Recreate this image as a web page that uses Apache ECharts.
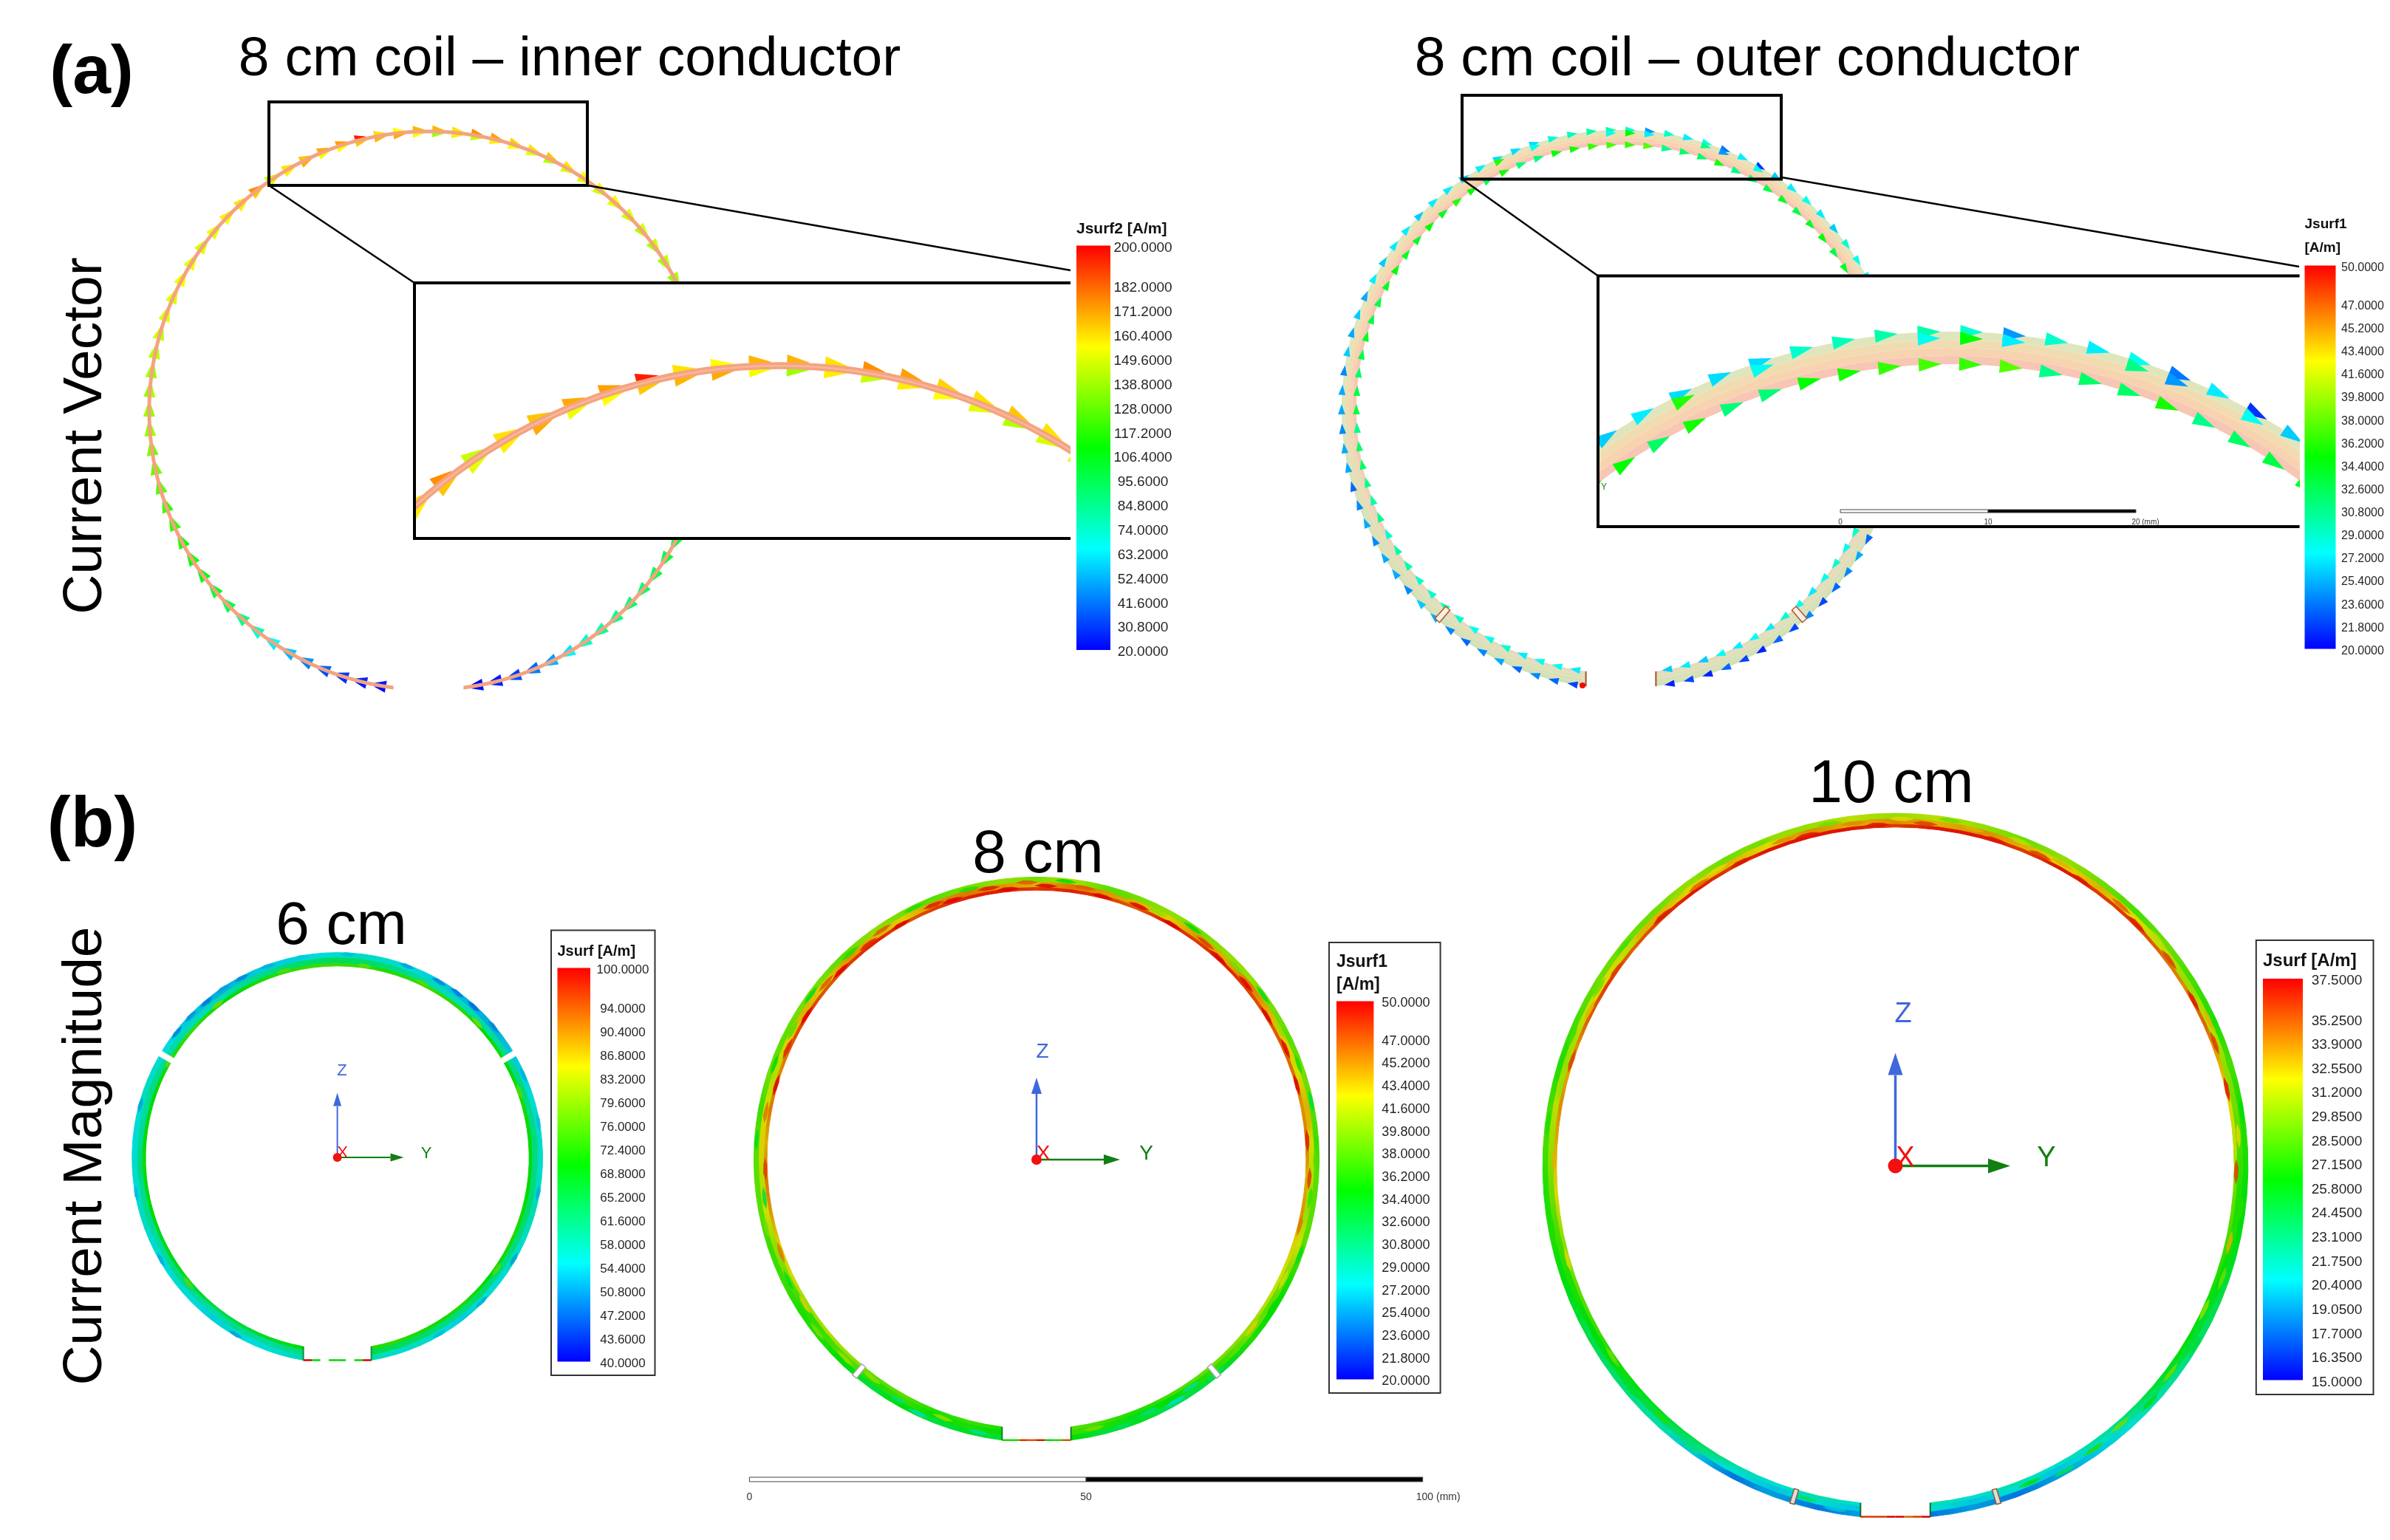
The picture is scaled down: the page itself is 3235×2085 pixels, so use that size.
<!DOCTYPE html>
<html><head><meta charset="utf-8">
<style>html,body{margin:0;padding:0;background:#fff}#c{width:3235px;height:2085px}</style>
<script src="https://cdn.jsdelivr.net/npm/echarts@6/dist/echarts.min.js"></script>
</head><body><div id="c"></div>
<script>
// ---------- colour bar tick labels ----------
const ticksInner=[20,30.8,41.6,52.4,63.2,74,84.8,95.6,106.4,117.2,128,138.8,149.6,160.4,171.2,182,200];
const ticksOuter=[20,21.8,23.6,25.4,27.2,29,30.8,32.6,34.4,36.2,38,39.8,41.6,43.4,45.2,47,50];
const ticks6=[40,43.6,47.2,50.8,54.4,58,61.6,65.2,68.8,72.4,76,79.6,83.2,86.8,90.4,94,100];
const ticks8=[20,21.8,23.6,25.4,27.2,29,30.8,32.6,34.4,36.2,38,39.8,41.6,43.4,45.2,47,50];
const ticks10=[15,16.35,17.7,19.05,20.4,21.75,23.1,24.45,25.8,27.15,28.5,29.85,31.2,32.55,33.9,35.25,37.5];
// ---------- arrow positions (degrees clockwise from top of the coil) ----------
const arrowAngles=[-170,-166,-162,-158,-154,-150,-146,-142,-138,-134,-130,-126,-122,-118,-114,-110,-106,-102,-98,-94,-90,-86,-82,-78,-74,-70,-66,-62,-58,-54,-50,-46,-42,-38,-34,-30,-26,-22,-18,-14,-10,-6,-2,2,6,10,14,18,22,26,30,34,38,42,46,50,54,58,62,66,70,74,78,82,86,90,94,98,102,106,110,114,118,122,126,130,134,138,142,146,150,154,158,162,166,170];
// inner conductor arrows, A/m
const innerCondOuter=[22,24,28,34,42,52,62,72,84,96,102,108,112,115,118,120,124,128,132,136,138,136,140,142,146,148,150,152,150,148,152,158,160,175,145,160,165,170,172,195,160,155,168,168,160,175,172,163,160,165,160,155,152,156,150,148,146,144,140,138,130,125,120,118,112,108,106,104,110,108,106,104,100,102,98,94,92,88,84,76,64,52,42,34,26,22];
const innerCondInner=[24,26,30,38,46,56,66,76,88,98,104,106,114,112,120,118,126,130,130,138,136,140,138,144,144,150,148,154,152,150,150,154,158,165,150,158,170,152,155,165,168,170,153,138,158,145,158,155,150,142,148,150,146,150,146,142,140,138,136,132,126,122,118,114,110,104,102,100,106,104,102,100,98,96,94,90,88,84,80,72,60,48,38,30,24,20];
// outer conductor arrows, A/m
const outerCondOuter=[22,23,24,23,25,24,23,24,25,26,24,25,25,24,25,24,23,25,25,24,25,25,24,26,25,26,25,27,26,27,27,26,27,27,26,27,26.5,26.5,26.5,29,29.5,30,30,29,24.5,29,27,28,23.5,27,21.5,26,27,28,27,26,29,28,27,28,29,28,27,26,25,26,27,26,25,24,23,24,23,25,24,23,22,24,22,23,21,22,23,21,22,21];
const outerCondInner=[27,28,28,27,29,28,28,29,30,29,29,30,30,29,31,30,31,32,32,31,33,33,32,33,34,33,33,34,35,34,34,35,34,36,35,32,35.5,31.5,31.5,35,35.5,36.5,37,36.5,37.5,31,32,32,35.5,31,32,33,34,33,34,35,33,34,33,34,32,33,32,34,33,32,31,32,31,30,29,30,29,28,29,28,27,28,29,27,28,27,28,26,27,26];
const outerExtraAngles=[-26,-18,-2,2,6,18,22,30];
const outerExtraValues=[36,28,28,35,27,31,24.5,28];
// ---------- surface current magnitude, outer / middle / inner part of the strip, clockwise from gap ----------
const outer6=[58,56,55,56,54,55,56,55,56,57,55,56,55,56,57,56,55,54,53,52,53,54,54,55,56,57,56,55,54,53,52,52,53,54,55,56,57,56,57,58,56,57,55,56,54,55,57,56,58];
const mid6=[62,60,59,60,58,60,61,60,59,61,60,62,60,59,61,60,59,58,57,58,60,61,62,63,64,63,62,60,58,57,58,59,60,61,62,61,62,61,62,63,62,61,62,63,61,62,63,64,65];
const inner6=[70,68,67,66,65,67,68,69,68,70,69,71,70,69,70,71,72,74,72,70,71,72,73,74,74,73,72,73,74,73,72,70,71,70,72,71,70,69,70,71,72,71,70,71,72,71,72,73,72];
const outer8=[33,34,33,35,33,35,36,36,37,37,38,38,38,37,39,38,39,39,38,40,39,38,39,40,39,41,38,39,40,39,40,40,39,38,39,38,37,38,38,38,36,35,36,34,33,32,34,33,35];
const mid8=[35,36,35,37,36,38,37,36,39,40,42,41,43,42,41,43,44,43,45,44,43,45,46,45,44,46,45,44,43,45,44,46,44,43,42,44,42,41,40,42,39,38,39,37,36,35,34,36,37];
const inner8=[36,37,36,38,38,40,41,40,42,43,45,46,44,46,45,47,48,47,48,49,47,48,49,49,48,49,48,47,49,48,49,48,47,47,46,45,46,44,45,43,42,41,40,39,38,37,36,37,38];
const outer10=[19,18,19,18,20,22,23,24,25,26,27,27,28,28,27,28,29,29,29,30,29,30,30,31,30,31,30,29,30,29,28,29,28,27,28,27,27,26,26,25,24,23,22,21,20,19,18,19,18];
const mid10=[20,21,20,21,23,24,25,26,26,27,28,29,30,31,30,31,32,31,33,32,33,32,34,33,34,33,34,33,32,33,32,31,30,31,30,29,28,27,27,26,25,25,24,22,21,20,21,20,21];
const inner10=[21,22,21,22,24,25,26,27,28,29,30,32,33,34,33,35,36,35,36,37,36,37,37,37,36,37,37,36,37,36,36,35,34,35,33,32,31,29,28,27,26,26,25,23,22,21,22,21,22];
// local hot and cold streaks: angle (deg), depth across the strip (0 outer, 1 inner), value
const spotAngles6=[-150,-120,-100,-75,-52,-46,-40,-34,-28,-20,-10,3,20,30,36,42,50,66,80,100,120,135,150,-130,-60,-38,-16,8,26,46,70,125];
const spotDepth6=[.1,.12,.08,.1,.12,.1,.14,.08,.12,.1,.1,.12,.1,.14,.1,.12,.1,.12,.08,.1,.12,.1,.12,.8,.85,.8,.8,.85,.8,.8,.85,.8];
const spotValues6=[51,52,53,51,49,50,48,51,49,52,54,53,51,49,48,47,49,52,53,52,51,52,53,76,77,78,76,77,76,78,76,76];
const spotAngles8=[-168,-160,-155,-150,-143,-136,-128,-122,-116,-110,-104,-98,-92,-86,-80,-74,-70,-66,-62,-58,-54,-50,-46,-42,-38,-34,-30,-26,-22,-18,-14,-10,-6,-2,2,6,10,14,18,22,26,30,34,38,42,46,50,54,58,62,66,70,74,78,82,86,90,94,98,104,110,116,122,128,134,140,146,150,156,162,168];
const spotDepth8=[.3,.6,.2,.4,.7,.5,.3,.7,.5,.8,.3,.6,.85,.15,.6,.9,.3,.75,.5,.85,.25,.6,.8,.35,.7,.45,.85,.2,.6,.75,.3,.55,.8,.4,.65,.2,.5,.85,.35,.7,.55,.85,.25,.6,.8,.4,.7,.2,.85,.5,.75,.3,.9,.15,.6,.85,.3,.7,.5,.85,.2,.6,.35,.7,.5,.25,.6,.3,.5,.2,.6];
const spotValues8=[30,40,29,31,40,40,39,43,34,46,39,33,48,34,46,50,35,49,38,50,34,47,50,36,49,47,50,36,49,50,36,49,50,47,50,35,47,50,38,50,40,50,35,48,50,39,50,34,50,40,50,36,50,33,44,49,38,48,37,46,34,42,35,43,38,31,30,28,31,32,39];
const spotAngles10=[-170,-165,-158,-150,-144,-137,-130,-124,-118,-112,-106,-100,-95,-89,-83,-77,-72,-68,-63,-59,-55,-51,-47,-43,-39,-35,-31,-27,-23,-19,-15,-11,-7,-3,1,5,9,13,17,21,25,29,33,37,41,45,49,53,57,61,65,69,73,77,81,85,91,97,103,109,115,121,127,133,139,145,151,157];
const spotDepth10=[.3,.6,.2,.5,.3,.7,.4,.8,.25,.6,.85,.3,.55,.8,.2,.65,.9,.35,.7,.5,.85,.25,.6,.8,.35,.7,.5,.85,.2,.6,.75,.3,.55,.8,.4,.65,.2,.5,.85,.35,.7,.55,.85,.25,.6,.8,.4,.7,.2,.85,.5,.75,.3,.9,.15,.6,.85,.3,.7,.5,.85,.2,.6,.35,.7,.5,.25,.6];
const spotValues10=[20,24,19,21,23,27,25,29,24,27,32,27,29,33,27,30,36,28,33,29,36,28,33,37,30,35,32,37,29,34,37,29,34,37,32,36,29,33,37,31,36,33,37,29,35,37,31,36,28,37,33,36,28,37,26,32,36,27,33,29,30,25,29,26,29,27,24,26];
// thin strip across the coil gap, values left to right (null = no strip drawn)
const gapStrip6=[100,70,null,70,70,null,70,100];
const gapStrip8=[36,36,48,47,49,35,36,47];
const gapStrip10=[36,36,36,49,49,35,36,47];
// slits in the strip, degrees
const slits6=[-59.5,59.5], slits8=[-140,140], slits10=[-163,163], slitsOuter=[-139,139];
const scaleB=[0,50,100], scaleInset=[0,10,20];

// ---------- helpers ----------
const FONT='Liberation Sans';
const k=9.11;
const RAIN=[[0,[0,0,255]],[.25,[0,255,255]],[.5,[0,255,0]],[.75,[255,255,0]],[1,[255,0,0]]];
function rainbow(v,lo,hi,shade=1){
  let t=Math.max(0,Math.min(1,(v-lo)/(hi-lo)));
  for(let i=1;i<RAIN.length;i++){ if(t<=RAIN[i][0]){
    const a=RAIN[i-1],b=RAIN[i],f=(t-a[0])/(b[0]-a[0]);
    const c=a[1].map((x,j)=>Math.round((x+(b[1][j]-x)*f)*shade));
    return `rgb(${c[0]},${c[1]},${c[2]})`; } }
  return 'rgb(255,0,0)';
}
const polar=(api,r,deg)=>{const a=deg*Math.PI/180;return api.coord([r*Math.sin(a),r*Math.cos(a)]);};
const endAngle=(r,cut)=>180-Math.asin(cut/r)*180/Math.PI;

const grid=[],xAxis=[],yAxis=[],series=[];
function addMapGrid(left,top,width,height,x0,x1,y0,y1){
  grid.push({left,top,width,height,show:false,containLabel:false});
  xAxis.push({type:'value',gridIndex:grid.length-1,min:x0,max:x1,show:false});
  yAxis.push({type:'value',gridIndex:grid.length-1,min:y0,max:y1,show:false});
  return grid.length-1;
}
function ringGrid(cx,cy,half){return addMapGrid(cx-half*k,cy-half*k,2*half*k,2*half*k,-half,half,-half,half);}
function base(g,z,clip){return {type:'custom',coordinateSystem:'cartesian2d',xAxisIndex:g,yAxisIndex:g,silent:true,animation:false,z,clip:!!clip,tooltip:{show:false}};}

function stripCells(g,ring,bands,lo,hi,shade,z){
  const cuts=[0,.4,.8,1],rows=[];
  bands.forEach((arr,b)=>{for(let i=0;i<arr.length-1;i++)rows.push([i,b,arr[i],arr[i+1],arr.length]);});
  series.push(Object.assign(base(g,z),{data:rows,renderItem(p,api){
    const i=api.value(0),b=api.value(1),n=api.value(4);
    const r1=ring.ro-(ring.ro-ring.ri)*cuts[b],r2=ring.ro-(ring.ro-ring.ri)*cuts[b+1];
    const ang=(r,j)=>{const A=endAngle(r,ring.cut);return -A+2*A*j/(n-1);};
    const pts=[polar(api,r1,ang(r1,i)),polar(api,r1,ang(r1,i+.5)),polar(api,r1,ang(r1,i+1)),polar(api,r2,ang(r2,i+1)),polar(api,r2,ang(r2,i+.5)),polar(api,r2,ang(r2,i))];
    const rm=(r1+r2)/2,s=polar(api,rm,ang(rm,i)),e=polar(api,rm,ang(rm,i+1));
    const fill={type:'linear',global:true,x:s[0],y:s[1],x2:e[0],y2:e[1],colorStops:[{offset:0,color:rainbow(api.value(2),lo,hi,shade)},{offset:1,color:rainbow(api.value(3),lo,hi,shade)}]};
    return {type:'polygon',shape:{points:pts},style:{fill,stroke:fill,lineWidth:1}};
  }}));
}
function stripSpots(g,ring,angles,depth,values,lo,hi,shade,spanMm,z){
  const rows=angles.map((a,i)=>[a,depth[i],values[i]]);
  series.push(Object.assign(base(g,z),{data:rows,renderItem(p,api){
    const a=api.value(0),w=ring.ro-ring.ri,rm=ring.ro-w*api.value(1),h=w*.16,s=spanMm/rm*180/Math.PI;
    const pts=[polar(api,rm,a-s),polar(api,rm+h,a-s*.35),polar(api,rm+h*.8,a+s*.4),polar(api,rm,a+s),polar(api,rm-h,a+s*.3),polar(api,rm-h*.8,a-s*.45)];
    return {type:'polygon',shape:{points:pts},style:{fill:rainbow(api.value(2),lo,hi,shade),opacity:.85}};
  }}));
}
function plainBand(g,ro,ri,cut,color,z,clip,lowColor){
  series.push(Object.assign(base(g,z,clip),{data:[[0]],renderItem(p,api){
    const N=180,pts=[],Ao=endAngle(ro,cut),Ai=endAngle(ri,cut);
    for(let i=0;i<=N;i++)pts.push(polar(api,ro,-Ao+2*Ao*i/N));
    for(let i=N;i>=0;i--)pts.push(polar(api,ri,-Ai+2*Ai*i/N));
    const fill=lowColor?{type:'linear',x:0,y:0,x2:0,y2:1,colorStops:[{offset:0,color},{offset:.45,color},{offset:.85,color:lowColor},{offset:1,color:lowColor}]}:color;
    return {type:'polygon',shape:{points:pts},style:{fill}};
  }}));
}
function arrows(g,rows,lo,hi,L,B,z,clip){
  series.push(Object.assign(base(g,z,clip),{data:rows,renderItem(p,api){
    const deg=api.value(0),a=deg*Math.PI/180,c=polar(api,api.value(1),deg);
    const dx=Math.cos(a),dy=Math.sin(a),nx=-dy,ny=dx;
    return {type:'polygon',shape:{points:[
      [c[0]+dx*L/2,c[1]+dy*L/2],
      [c[0]-dx*L/2+nx*B/2,c[1]-dy*L/2+ny*B/2],
      [c[0]-dx*L/2-nx*B/2,c[1]-dy*L/2-ny*B/2]]},
      style:{fill:rainbow(api.value(2),lo,hi)}};
  }}));
}
function slitMarks(g,ring,angles,widthMm,fill,edge,over,z,clip){
  series.push(Object.assign(base(g,z,clip),{data:angles.map(a=>[a]),renderItem(p,api){
    const deg=api.value(0),ro=ring.ro+over,ri=ring.ri-over,d=widthMm/2/ring.ro*180/Math.PI;
    return {type:'polygon',shape:{points:[polar(api,ro,deg-d),polar(api,ro,deg+d),polar(api,ri,deg+d),polar(api,ri,deg-d)]},style:{fill,stroke:edge,lineWidth:edge==='none'?0:1.5}};
  }}));
}
function gapMarks(g,ring,vals,lo,hi,endColor,z){
  const n=vals.length,y=-Math.sqrt(ring.ro*ring.ro-ring.cut*ring.cut),yi=-Math.sqrt(ring.ri*ring.ri-ring.cut*ring.cut);
  const rows=[];
  vals.forEach((v,i)=>{if(v!==null)rows.push([-ring.cut+2*ring.cut*i/n,y,-ring.cut+2*ring.cut*(i+1)/n,y,rainbow(v,lo,hi,.85),2.5]);});
  [-ring.cut,ring.cut].forEach(c=>rows.push([c,y,c,yi,endColor,2]));
  series.push(Object.assign(base(g,z),{
    dimensions:['x1','y1','x2','y2',{name:'c',type:'ordinal'},'w'],
    encode:{x:0,y:1},data:rows,renderItem(p,api){
      const a=api.coord([api.value(0),api.value(1)]),b=api.coord([api.value(2),api.value(3)]);
      return {type:'line',shape:{x1:a[0],y1:a[1],x2:b[0],y2:b[1]},style:{stroke:rows[p.dataIndex][4],lineWidth:api.value(5)}};
    }}));
}
function colorBar(left,top,width,height,ticks,margin,fontSize){
  grid.push({left,top,width,height,show:false});
  const g=grid.length-1,lo=ticks[0],hi=ticks[ticks.length-1];
  xAxis.push({type:'category',gridIndex:g,data:['J'],show:false});
  yAxis.push({type:'value',gridIndex:g,position:'right',min:lo,max:hi,splitLine:{show:false},axisLine:{show:false},
    axisTick:{show:false,customValues:ticks},
    axisLabel:{show:true,customValues:ticks,hideOverlap:false,showMinLabel:true,showMaxLabel:true,margin,align:'center',verticalAlign:'middle',color:'#262626',fontFamily:FONT,fontSize,
      formatter:v=>`{n|${Number(v).toFixed(4)}}`,
      rich:{n:{fontFamily:FONT,fontSize,color:'#262626',padding:[6,0,0,0]}}}});
  series.push({type:'bar',xAxisIndex:g,yAxisIndex:g,silent:true,animation:false,barWidth:'100%',data:[hi],z:2,
    itemStyle:{color:{type:'linear',x:0,y:0,x2:0,y2:1,colorStops:[{offset:0,color:'#ff0000'},{offset:.25,color:'#ffff00'},{offset:.5,color:'#00ff00'},{offset:.75,color:'#00ffff'},{offset:1,color:'#0000ff'}]}}});
}
function scaleBar(left,top,width,height,ticks,unit,fontSize,margin,pad,z){
  grid.push({left,top,width,height,show:false});
  const g=grid.length-1,lo=ticks[0],hi=ticks[ticks.length-1];
  xAxis.push({type:'value',gridIndex:g,min:lo,max:hi,z,splitLine:{show:false},axisLine:{show:false},axisTick:{show:false,customValues:ticks},
    axisLabel:{show:true,customValues:ticks,hideOverlap:false,showMinLabel:true,showMaxLabel:true,margin,color:'#333',fontFamily:FONT,fontSize,
      formatter:v=>v===hi?`{u|${v} (${unit})}`:`${v}`,
      rich:{u:{fontFamily:FONT,fontSize,color:'#333',padding:[0,0,0,pad]}}}});
  yAxis.push({type:'value',gridIndex:g,min:0,max:1,show:false});
  series.push(Object.assign(base(g,z),{
    data:[[ticks[0],ticks[1],0],[ticks[1],ticks[2],1]],renderItem(p,api){
      const a=api.coord([api.value(0),1]),b=api.coord([api.value(1),0]);
      return {type:'rect',shape:{x:a[0],y:a[1],width:b[0]-a[0],height:b[1]-a[1]},style:{fill:api.value(2)?'#000':'#fff',stroke:'#444',lineWidth:1}};
    }}));
}

// ---------- panel (a) ----------
const wire={ro:41.77,ri:41.23,cut:5.2}, strap={ro:41.5,ri:39.3,cut:5.2};
const wireRows=[...arrowAngles.map((a,i)=>[a,41.78,innerCondOuter[i]]),...arrowAngles.map((a,i)=>[a,41.22,innerCondInner[i]])];
const strapRows=[...arrowAngles.map((a,i)=>[a,41.5,outerCondOuter[i]]),...arrowAngles.map((a,i)=>[a,39.3,outerCondInner[i]]),...outerExtraAngles.map((a,i)=>[a,41.05,outerExtraValues[i]])];
const strapPalette=[[41.5,40.95,'#dfe6bd','#d2e0b6'],[40.95,40.4,'#f1dcb2','#d8e0b8'],[40.4,39.85,'#f8d3b0','#dfe0ba'],[39.85,39.3,'#f7c6b4','#e3dcbc']];

const gA1=ringGrid(580,556,46);
arrows(gA1,wireRows,20,200,16,11,2);
plainBand(gA1,wire.ro,wire.ri,wire.cut,'#f4a380',3);
const gA2=ringGrid(2194,554,46);
strapPalette.forEach(b=>plainBand(gA2,b[0],b[1],strap.cut,b[2],2,false,b[3]));
arrows(gA2,strapRows,20,50,14,9.5,3);
slitMarks(gA2,strap,slitsOuter,.9,'#f6f0e6','#b5532a',.1,3);
gapMarks(gA2,strap,[null],20,50,'#a8502a',3);

// insets: the same coil data through a magnified scale
const ka1=17.7, ka2=20;
const gI1=addMapGrid(561,383,888,346,(561-1055)/ka1,(1449-1055)/ka1,41.5-(729-495)/ka1,41.5+(495-383)/ka1);
arrows(gI1,wireRows,20,200,31,20,5,true);
plainBand(gI1,wire.ro,wire.ri,wire.cut,'#f4a380',6,true);
plainBand(gI1,41.56,41.42,wire.cut,'#f9b79b',6,true);
const gI2=addMapGrid(2163,373.5,949.6,339.5,(2163-2640)/ka2,(3112.6-2640)/ka2,41.5-(713-449)/ka2,41.5+(449-373.5)/ka2);
strapPalette.forEach(b=>plainBand(gI2,b[0],b[1],strap.cut,b[2],5,true));
arrows(gI2,strapRows,20,50,31,18,6,true);

// ---------- panel (b) ----------
const ring6={ro:30.5,ri:28.5,cut:5.05}, ring8={ro:42,ri:40.05,cut:5.12}, ring10={ro:52.4,ri:50.35,cut:5.18};
const gB6=ringGrid(456.6,1567.5,33);
stripCells(gB6,ring6,[outer6,mid6,inner6],40,100,.86,2);
stripSpots(gB6,ring6,spotAngles6,spotDepth6,spotValues6,40,100,.86,1.2,2);
slitMarks(gB6,ring6,slits6,.9,'#fff','none',.3,3);
gapMarks(gB6,ring6,gapStrip6,40,100,'#1d8a3a',3);
const gB8=ringGrid(1403,1570,45);
stripCells(gB8,ring8,[outer8,mid8,inner8],20,50,.87,2);
stripSpots(gB8,ring8,spotAngles8,spotDepth8,spotValues8,20,50,.87,1.7,2);
slitMarks(gB8,ring8,slits8,.8,'#fff','#aaa',.1,3);
gapMarks(gB8,ring8,gapStrip8,20,50,'#1a7a2a',3);
const gB10=ringGrid(2565.5,1578.5,55);
stripCells(gB10,ring10,[outer10,mid10,inner10],15,37.5,.87,2);
stripSpots(gB10,ring10,spotAngles10,spotDepth10,spotValues10,15,37.5,.87,1.9,2);
slitMarks(gB10,ring10,slits10,.7,'#e4dcd6','#8a5a40',.1,3);
gapMarks(gB10,ring10,gapStrip10,15,37.5,'#1a6a2a',3);

// ---------- colour bars and scale bars ----------
colorBar(1457,332.5,46,547.5,ticksInner,44,19);
colorBar(3119.5,359.5,42,519,ticksOuter,36.5,16);
colorBar(754.5,1310.5,44.5,533,ticks6,44,17);
colorBar(1809,1355.5,50.4,512,ticks8,43.5,18);
colorBar(3063,1325,54,543.5,ticks10,46,19);
scaleBar(1014.4,2000,911.3,6,scaleB,'mm',14,14,42,8);
scaleBar(2491,690,400,4,scaleInset,'mm',10,8,26,8);

// ---------- annotations ----------
const G=[];
const text=(s,x,y,size,o={})=>G.push({type:'text',x,y,z:10,rotation:o.rot||0,silent:true,style:{text:s,x:0,y:0,fontFamily:FONT,fontSize:size,fontWeight:o.bold?'bold':'normal',fill:o.fill||'#000',align:o.align||'center',verticalAlign:'middle'}});
const line=(x1,y1,x2,y2,w,c='#000',z=7)=>G.push({type:'line',z,silent:true,shape:{x1,y1,x2,y2},style:{stroke:c,lineWidth:w}});
const rect=(x,y,w,h,o)=>G.push(Object.assign({type:'rect',silent:true,shape:{x,y,width:w,height:h}},o));
const poly=(pts,c,z=7)=>G.push({type:'polygon',z,silent:true,shape:{points:pts},style:{fill:c}});

text('(a)',124,100,93,{bold:true});
text('(b)',125,1120,96,{bold:true});
text('8 cm coil – inner conductor',771,81,75);
text('8 cm coil – outer conductor',2365,81,75);
text('Current Vector',116,590,75,{rot:Math.PI/2});
text('Current Magnitude',116,1565,75,{rot:Math.PI/2});
text('6 cm',462,1255,82);
text('8 cm',1405,1158,82);
text('10 cm',2560,1063,82);

// magnification boxes
rect(561,383,888,346,{z:4,style:{fill:'#fff'}});
rect(2163,373.5,949.6,339.5,{z:4,style:{fill:'#fff'}});
rect(364,138,431,113,{z:7,style:{fill:'none',stroke:'#000',lineWidth:4}});
rect(1979,129,432,113.5,{z:7,style:{fill:'none',stroke:'#000',lineWidth:4}});
line(364,251,561,383,2.5); line(795,251,1449,366,2.5);
line(1979,242.5,2163,373.5,2.5); line(2411,240,3112,361,2.5);
G.push({type:'polyline',z:7,silent:true,shape:{points:[[1449,383],[561,383],[561,729],[1449,729]]},style:{fill:'none',stroke:'#000',lineWidth:4}});
G.push({type:'polyline',z:7,silent:true,shape:{points:[[3112.6,373.5],[2163,373.5],[2163,713],[3112.6,713]]},style:{fill:'none',stroke:'#000',lineWidth:4}});
text('Y',2171,660,12,{fill:'#118811'});
G.push({type:'circle',z:7,silent:true,shape:{cx:2142,cy:928,r:4},style:{fill:'#f00'}});

// colour bar titles and boxes
const boxed=(x,y,w,h)=>rect(x,y,w,h,{z:1,style:{fill:'none',stroke:'#333',lineWidth:2}});
boxed(746,1259.5,140.5,602.5); boxed(1799,1276,150.6,610); boxed(3053.8,1273,158.7,615);
const bold={bold:true,align:'left',fill:'#111'};
text('Jsurf2 [A/m]',1457,310,21,bold);
text('Jsurf1',3119.5,304,19,bold); text('[A/m]',3119.5,336,19,bold);
text('Jsurf [A/m]',754.5,1288,20,bold);
text('Jsurf1',1809,1303,23,bold); text('[A/m]',1809,1334,23,bold);
text('Jsurf [A/m]',3063,1301,24,bold);

// coordinate triads
function triad(ox,oy,zEnd,yEnd,hl,hw,lw,dot,font,zl,yl,xl){
  line(ox,oy,ox,zEnd+hl,lw,'#3f68dc'); poly([[ox,zEnd],[ox-hw/2,zEnd+hl],[ox+hw/2,zEnd+hl]],'#3f68dc');
  line(ox,oy,yEnd-hl,oy,lw,'#127f12'); poly([[yEnd,oy],[yEnd-hl,oy-hw/2],[yEnd-hl,oy+hw/2]],'#127f12');
  G.push({type:'circle',z:8,silent:true,shape:{cx:ox,cy:oy,r:dot},style:{fill:'#f21010'}});
  text('Z',zl[0],zl[1],font,{fill:'#3f68dc'});
  text('Y',yl[0],yl[1],font,{fill:'#127f12'});
  text('X',xl[0],xl[1],font,{fill:'#f21010'});
}
triad(456.6,1567,1479.5,546.5,18,11,2,6,22,[463,1450],[577,1562],[463.6,1561]);
triad(1403,1570,1459,1516,22,14,2.5,7,28,[1411,1424],[1551.6,1562],[1412,1562]);
triad(2565.5,1578.5,1425.6,2721,30,20,3.5,10,38,[2576,1374],[2770,1569],[2579,1569]);

const chart=echarts.init(document.getElementById('c'),null,{renderer:'canvas',width:3235,height:2085});
chart.setOption({animation:false,backgroundColor:'#fff',grid,xAxis,yAxis,series,graphic:{elements:G}});
</script></body></html>
